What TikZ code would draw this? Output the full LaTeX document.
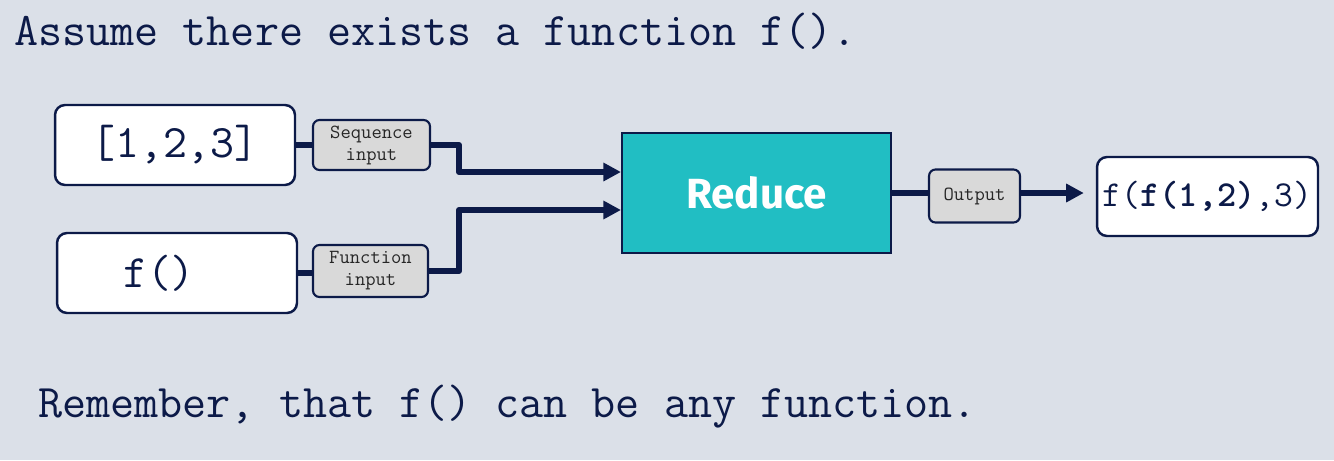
\documentclass[tikz,border=0pt]{standalone}
\usepackage{fontspec}
\newfontfamily\headfont{Fira Sans}
\usepackage{xcolor}
\definecolor{PageBack}{RGB}{219,224,232}
\definecolor{NavyLine}{RGB}{12,26,72}
\definecolor{ReduceFill}{RGB}{33,190,195}
\definecolor{TagFill}{RGB}{217,217,217}
\usetikzlibrary{
  positioning,
  arrows.meta,
  calc
}
\tikzset{
  % Input and result box
  valbox/.style={
    rectangle,
    rounded corners=0.2cm,
    draw=NavyLine,
    fill=white,
    line width=1.4pt,
    text=NavyLine,
    inner sep=0pt
  },
  % Small gray tag on a connector
  tagbox/.style={
    rectangle,
    rounded corners=0.13cm,
    draw=NavyLine,
    fill=TagFill,
    line width=1.2pt,
    align=center,
    font=\ttfamily\fontsize{11.4}{12.5}\selectfont,
    text=black!85,
    inner sep=0pt
  },
  % Operation block
  opbox/.style={
    rectangle,
    draw=NavyLine,
    fill=ReduceFill,
    line width=1.2pt,
    text=white,
    font=\headfont\bfseries\fontsize{24}{27}\selectfont,
    inner sep=0pt
  },
  % Thick connector
  link/.style={
    draw=NavyLine,
    line width=3.4pt,
    line join=round
  },
  % Thick connector with arrow
  dlink/.style={
    link,
    -{Triangle[length=10pt,width=10pt]}
  },
  % Plain caption text
  caption/.style={
    anchor=base west,
    text=NavyLine,
    inner sep=0pt,
    font=\ttfamily\fontsize{26.6}{30}\selectfont
  }
}
\begin{document}
\begin{tikzpicture}[x=0.02cm,y=-0.02cm]
  \fill[PageBack] (0,0) rectangle (1334,460);
  \useasboundingbox (0,0) rectangle (1334,460);
  % Captions
  \node[caption] (top) at (14,45) {Assume there exists a function f().};
  \node[caption] (bottom) at (38,417) {Remember, that f() can be any function.};
  % Inputs
  \node[valbox, minimum width=4.8cm, minimum height=1.6cm,
        font=\ttfamily\fontsize{26.5}{29}\selectfont] (seq) at (175,145) {[1,2,3]};
  \node[valbox, minimum width=4.8cm, minimum height=1.6cm,
        font=\ttfamily\fontsize{26.5}{29}\selectfont] (fun) at (177,273) {\hspace*{-0.72cm}f()};
  % Tags
  \node[tagbox, minimum width=2.34cm, minimum height=1.0cm] (seqtag) at (371.5,145) {Sequence\\input};
  \node[tagbox, minimum width=2.3cm, minimum height=1.04cm] (funtag) at (370.5,271) {Function\\input};
  % Reduce block
  \node[opbox, minimum width=5.38cm, minimum height=2.4cm] (reduce) at (756.5,193) {Reduce};
  \node[tagbox, minimum width=1.82cm, minimum height=1.06cm] (outtag) at (974.5,196) {Output};
  % Result
  \node[valbox, minimum width=4.42cm, minimum height=1.58cm,
        font=\ttfamily\fontsize{20.8}{23}\selectfont] (result) at (1207.5,196.5)
        {f(\textbf{f(1,2)},3)};
  % Connectors
  \draw[link] (seq.east) -- (seq.east -| seqtag.west);
  \draw[link] (fun.east) -- (fun.east -| funtag.west);
  \draw[dlink] (seqtag.east) -- ++(28,0) |- ([yshift=0.42cm]reduce.west);
  \draw[dlink] (funtag.east) -- ++(30,0) |- ([yshift=-0.34cm]reduce.west);
  \draw[link] (reduce.east) -- (reduce.east -| outtag.west);
  \draw[dlink, shorten >=0.24cm] (reduce.east -| outtag.east) -- (reduce.east -| result.west);
\end{tikzpicture}
\end{document}
